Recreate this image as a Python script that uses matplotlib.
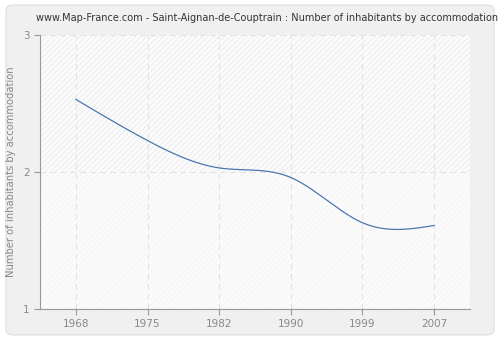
import matplotlib.pyplot as plt
import numpy as np
from matplotlib.patches import FancyBboxPatch, Rectangle

years = ['1968', '1975', '1982', '1990', '1999', '2007']
values = [2.53, 2.23, 2.03, 1.96, 1.63, 1.61]
y_ticks = [1, 2, 3]
title = "www.Map-France.com - Saint-Aignan-de-Couptrain : Number of inhabitants by accommodation"
y_label = "Number of inhabitants by accommodation"


def natural_spline(x, y, n=300):
    # natural cubic spline through the points
    x = np.asarray(x, float)
    y = np.asarray(y, float)
    k = len(x)
    h = np.diff(x)
    A = np.zeros((k, k))
    b = np.zeros(k)
    A[0, 0] = A[-1, -1] = 1
    for i in range(1, k - 1):
        A[i, i - 1] = h[i - 1]
        A[i, i] = 2 * (h[i - 1] + h[i])
        A[i, i + 1] = h[i]
        b[i] = 6 * ((y[i + 1] - y[i]) / h[i] - (y[i] - y[i - 1]) / h[i - 1])
    m = np.linalg.solve(A, b)
    xs = np.linspace(x[0], x[-1], n)
    idx = np.clip(np.searchsorted(x, xs) - 1, 0, k - 2)
    x0, x1 = x[idx], x[idx + 1]
    hh = x1 - x0
    t0, t1 = x1 - xs, xs - x0
    ys = (m[idx] * t0 ** 3 + m[idx + 1] * t1 ** 3) / (6 * hh) \
        + (y[idx] / hh - m[idx] * hh / 6) * t0 \
        + (y[idx + 1] / hh - m[idx + 1] * hh / 6) * t1
    return xs, ys


fig = plt.figure(figsize=(5, 3.4), dpi=100)
fig.patch.set_facecolor('white')
fig.patches.append(FancyBboxPatch(
    (0.012, 0.015), 0.976, 0.97,
    boxstyle="round,pad=0,rounding_size=0.015",
    transform=fig.transFigure, facecolor='#f0f0f0',
    edgecolor='#e2e2e2', linewidth=1, zorder=-5,
))

ax = fig.add_axes([0.08, 0.091, 0.86, 0.806])
ax.set_facecolor('#fbfbfb')
pos = np.arange(len(years))
ax.set_xlim(-0.5, len(years) - 0.5)
ax.set_ylim(1, 3)

# hatched background bands
plt.rcParams['hatch.linewidth'] = 0.5
ax.add_patch(Rectangle((-0.5, 2), len(years), 1, facecolor='none',
                       edgecolor='#e8e8e8', hatch='//////', linewidth=0, zorder=0))
ax.add_patch(Rectangle((-0.5, 1), len(years), 1, facecolor='none',
                       edgecolor='#f3f3f3', hatch='//////', linewidth=0, zorder=0))

xs, ys = natural_spline(pos, values)
ax.plot(xs, ys, color='#4a78b0', linewidth=0.9, zorder=3)

ax.set_xticks(pos)
ax.set_xticklabels(years)
ax.set_yticks(y_ticks)
ax.grid(True, color='#e2e2e2', linestyle=(0, (5, 4)), linewidth=0.8)
for side in ['top', 'right']:
    ax.spines[side].set_visible(False)
for side in ['left', 'bottom']:
    ax.spines[side].set_color('#999999')
ax.tick_params(colors='#999999', labelcolor='#888888', labelsize=7.5,
               length=4, width=0.8)
ax.set_ylabel(y_label, fontsize=7.2, color='#888888')
ax.yaxis.set_label_coords(-0.055, 0.5)
fig.text(0.535, 0.948, title, ha='center', va='center', fontsize=7.0, color='#333333')

fig.savefig('out.png', dpi=100, facecolor=fig.get_facecolor())
